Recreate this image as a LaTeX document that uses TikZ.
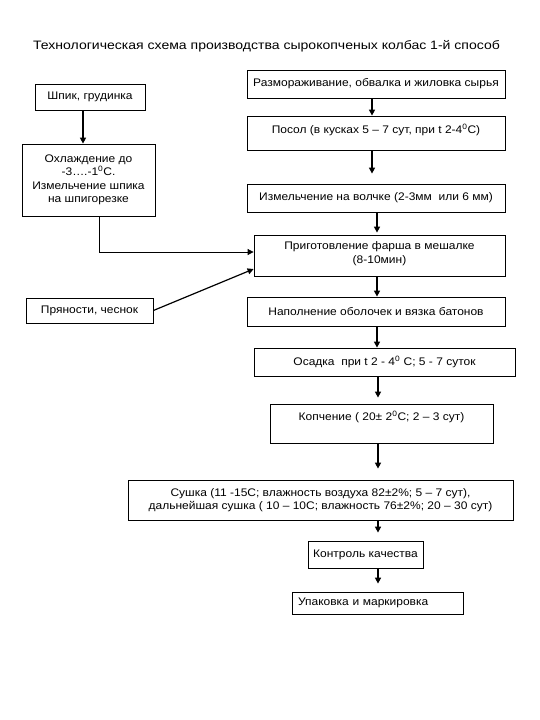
\documentclass[tikz,border=0pt]{standalone}
\usepackage{fontspec}
\setmainfont{Liberation Sans}
\newfontfamily\boxfont[FakeStretch=1.09]{Liberation Sans}
\newfontfamily\titlefont[FakeStretch=1.15]{Liberation Sans}
\usetikzlibrary{arrows.meta}
\begin{document}
\begin{tikzpicture}[x=1pt,y=-1pt,
  box/.style={draw=black, line width=0.8pt, fill=white, inner sep=2pt, align=center,
    font=\boxfont\fontsize{11}{13.5}\selectfont},
  flow/.style={line width=1.5pt, -{Triangle[length=6pt,width=6pt]}},
  title/.style={font=\titlefont\fontsize{12.2}{14}\selectfont}
]
\useasboundingbox (0,0) rectangle (540,720);
\fill[white] (0,0) rectangle (540,720);

\node[title] (ttl) at (266.5,46) {Технологическая схема производства сырокопченых колбас 1-й способ};

\node[box, minimum width=110pt, minimum height=26pt] (shpik) at (90,97) {Шпик, грудинка};
\node[box, minimum width=258pt, minimum height=28pt] (razm) at (376,84) {Размораживание, обвалка и жиловка сырья};
\node[box, minimum width=258pt, minimum height=34pt, text depth=8pt] (posol) at (376,133) {Посол (в кусках 5 – 7 сут, при t 2-4\textsuperscript{0}С)};
\node[box, minimum width=133pt, minimum height=72pt] (ohl) at (88.5,180) {Охлаждение до\\-3….-1\textsuperscript{0}С.\\Измельчение шпика\\на шпигорезке};
\node[box, minimum width=258pt, minimum height=28pt] (volch) at (376,198) {Измельчение на волчке (2-3мм \ или 6 мм)};
\node[box, minimum width=251pt, minimum height=41pt, text depth=6pt] (farsh) at (379.5,255.5) {Приготовление фарша в мешалке\\(8-10мин)};
\node[box, minimum width=127pt, minimum height=25pt] (pryan) at (89.5,310.5) {Пряности, чеснок};
\node[box, minimum width=258pt, minimum height=29pt] (napoln) at (376,311.5) {Наполнение оболочек и вязка батонов};
\node[box, minimum width=261pt, minimum height=28pt] (osadka) at (384.5,362) {Осадка \ при t 2 - 4\textsuperscript{0} С; 5 - 7 суток};
\node[box, minimum width=223pt, minimum height=39pt, text depth=16pt] (kopch) at (381.5,423.5) {Копчение ( 20± 2\textsuperscript{0}С; 2 – 3 сут)};
\node[box, minimum width=385pt, minimum height=40pt] (sushka) at (320.5,500) {Сушка (11 -15С; влажность воздуха 82±2\%; 5 – 7 сут),\\дальнейшая сушка ( 10 – 10С; влажность 76±2\%; 20 – 30 сут)};
\node[box, minimum width=115pt, minimum height=27pt] (kontr) at (365.5,554.5) {Контроль качества};
\node[box, minimum width=171pt, minimum height=22pt, text width=159pt, align=left] (upak) at (377.5,603) {Упаковка и маркировка};

\draw[flow] (razm.south -| 372,0) -- (posol.north -| 372,0);
\draw[flow] (shpik.south -| 83,0) -- (ohl.north -| 83,0);
\draw[flow, shorten >=10pt] (posol.south -| 372,0) -- (volch.north -| 372,0);
\draw[flow, shorten >=2pt] (volch.south -| 377,0) -- (farsh.north -| 377,0);
\draw[line width=0.8pt, -{Triangle[length=6pt,width=6pt]}] (ohl.south -| 99,0) -- (99,252) -- (farsh.west |- 0,252);
\draw[line width=1.2pt, -{Triangle[length=6pt,width=6pt]}] (pryan.east) -- (farsh.west |- 0,269);
\draw[flow] (farsh.south -| 377,0) -- (napoln.north -| 377,0);
\draw[flow] (napoln.south -| 377,0) -- (osadka.north -| 377,0);
\draw[flow, shorten >=6pt] (osadka.south -| 378,0) -- (kopch.north -| 378,0);
\draw[flow, shorten >=11pt] (kopch.south -| 378,0) -- (sushka.north -| 378,0);
\draw[flow, shorten >=8pt] (sushka.south -| 378,0) -- (kontr.north -| 378,0);
\draw[flow, shorten >=8pt] (kontr.south -| 378,0) -- (upak.north -| 378,0);
\end{tikzpicture}
\end{document}
